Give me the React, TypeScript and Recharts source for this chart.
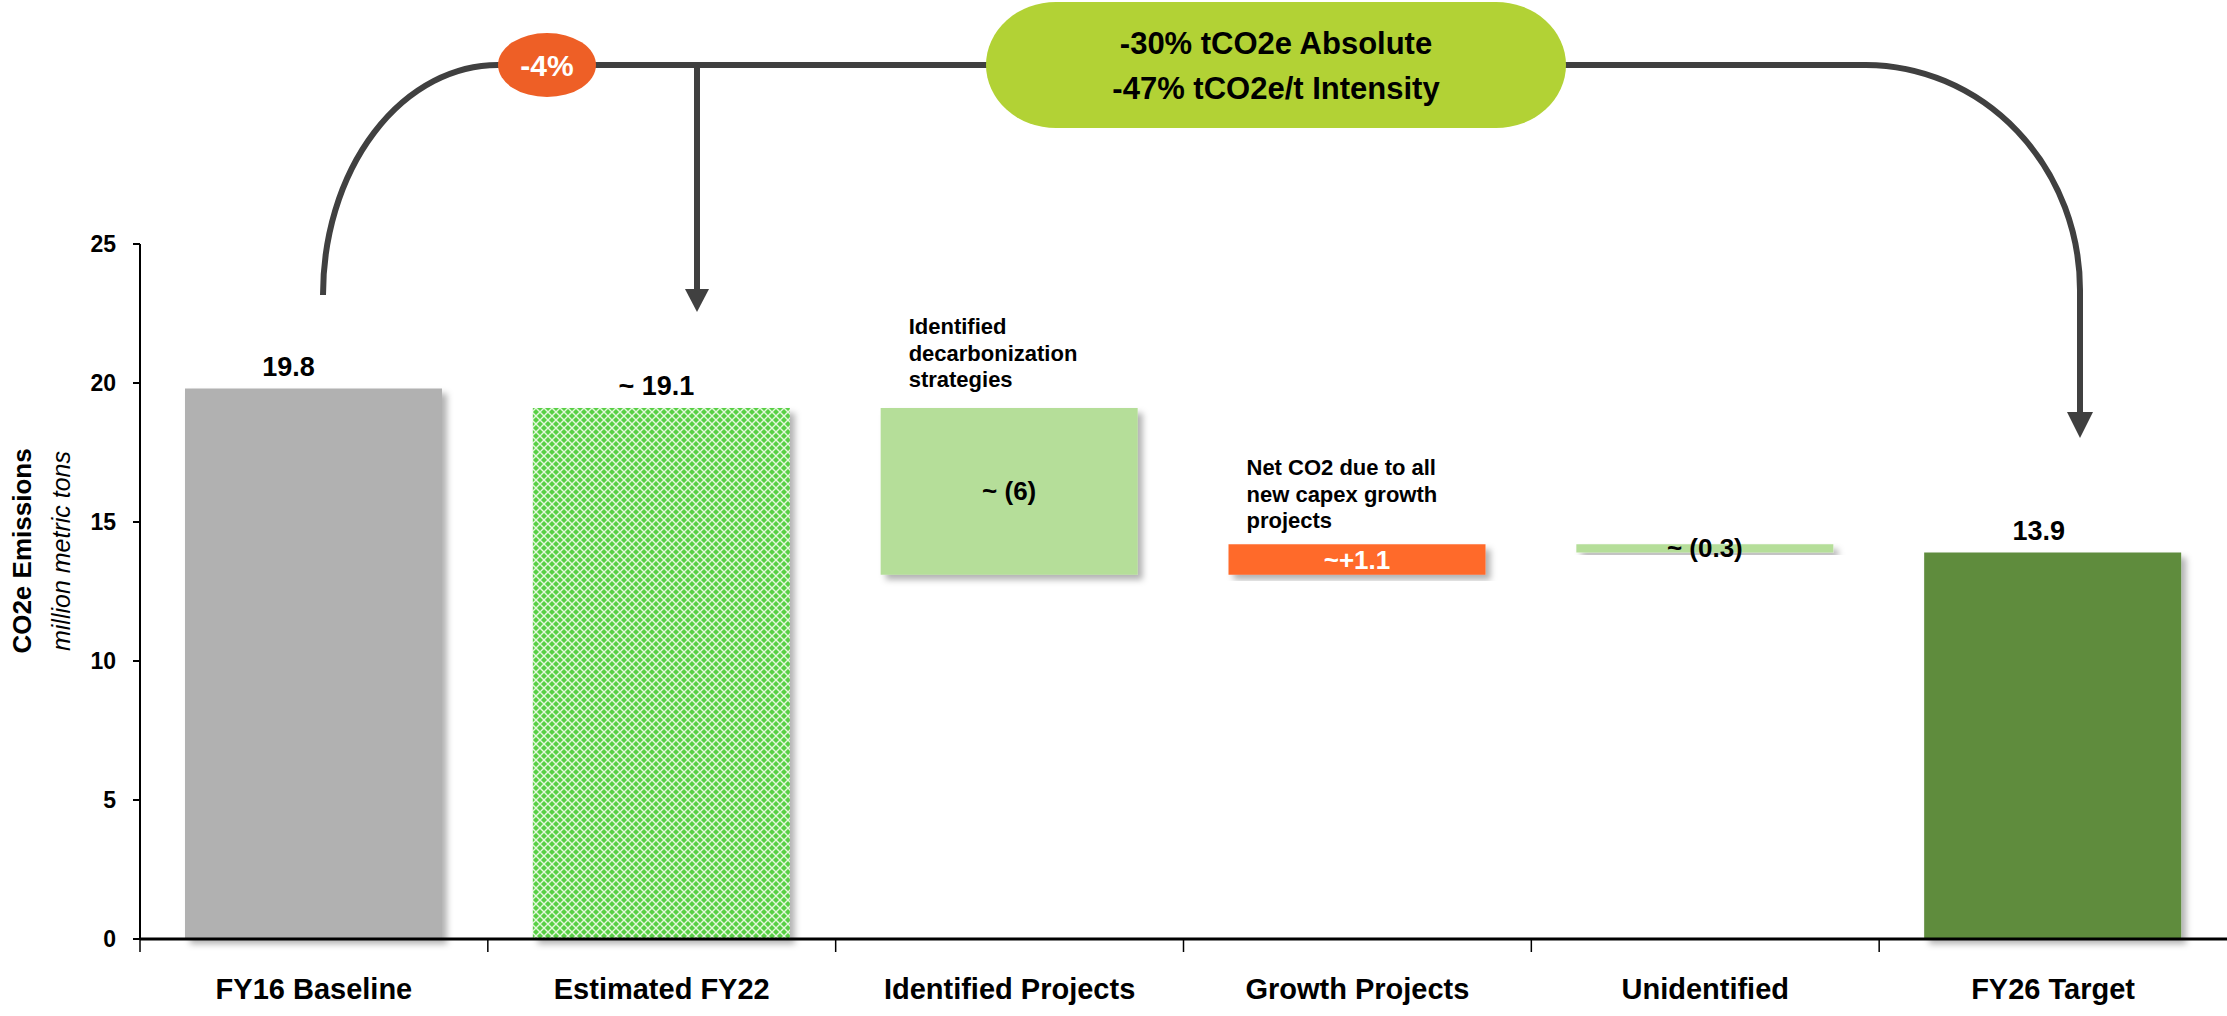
import { Bar, BarChart, Cell, LabelList, XAxis, YAxis } from "recharts";

const CATEGORIES = [
  "FY16 Baseline",
  "Estimated FY22",
  "Identified Projects",
  "Growth Projects",
  "Unidentified",
  "FY26 Target",
];
// waterfall: invisible base + visible change
const BASE = [0, 0, 13.1, 13.1, 13.9, 0];
const CHANGE = [19.8, 19.1, 6, 1.1, 0.3, 13.9];
const VALUE_LABELS = ["19.8", "~ 19.1", "~ (6)", "~+1.1", "~ (0.3)", "13.9"];
const NOTES = [
  [],
  [],
  ["Identified", "decarbonization", "strategies"],
  ["Net CO2 due to all", "new capex growth", "projects"],
  [],
  [],
];
const Y_TICKS = [0, 5, 10, 15, 20, 25];

const W = 2227;
const H = 1016;
const TOP = 244;
const Y_AXIS_W = 140;
const X_AXIS_H = 77;
const BAND = (W - Y_AXIS_W) / CATEGORIES.length;
const FONT = "'Liberation Sans', Arial, sans-serif";

const FILLS = ["#b1b1b1", "url(#hatch)", "#b5de99", "#ff6a2c", "#b5de99", "#5e8c3c"];
const LABEL_DX = [-25, -5, 0, 0, 0, -14];
const LABEL_INSIDE = [false, false, true, true, true, false];
const NOTE_DX = [0, 0, 28, 18, 0, 0];
const NOTE_BOTTOM = [0, 0, 21, 16, 0, 0];

const data = CATEGORIES.map((name, i) => ({ name, base: BASE[i], change: CHANGE[i] }));

function CategoryTick(props: any) {
  const { x, y, payload } = props;
  const left = x - BAND / 2;
  return (
    <g>
      <line x1={left} x2={left} y1={y} y2={y + 13} stroke="#000" strokeWidth={1.5} />
      <text x={x} y={y + 60} textAnchor="middle" fontFamily={FONT} fontWeight={700} fontSize={29} fill="#000">
        {payload.value}
      </text>
    </g>
  );
}

function BarLabel(props: any) {
  const { x, y, width, height, index } = props;
  const i = index as number;
  const cx = x + width / 2 + LABEL_DX[i];
  const notes = NOTES[i];
  return (
    <g>
      {LABEL_INSIDE[i] ? (
        <text
          x={cx}
          y={y + height / 2 + 9}
          textAnchor="middle"
          fontFamily={FONT}
          fontWeight={700}
          fontSize={26}
          fill={i === 3 ? "#fff" : "#000"}
        >
          {VALUE_LABELS[i]}
        </text>
      ) : (
        <text x={cx} y={y - 13} textAnchor="middle" fontFamily={FONT} fontWeight={700} fontSize={27} fill="#000">
          {VALUE_LABELS[i]}
        </text>
      )}
      {notes.map((line, k) => (
        <text
          key={k}
          x={x + NOTE_DX[i]}
          y={y - NOTE_BOTTOM[i] - (notes.length - 1 - k) * 26.5}
          fontFamily={FONT}
          fontWeight={700}
          fontSize={22}
          fill="#000"
        >
          {line}
        </text>
      ))}
    </g>
  );
}

function Annotations() {
  const dark = "#404040";
  return (
    <svg width={W} height={H} style={{ position: "absolute", left: 0, top: 0, pointerEvents: "none" }}>
      {/* axis title */}
      <text
        transform="translate(31 551) rotate(-90)"
        textAnchor="middle"
        fontFamily={FONT}
        fontWeight={700}
        fontSize={26}
        fill="#000"
      >
        CO2e Emissions
      </text>
      <text
        transform="translate(70 551) rotate(-90)"
        textAnchor="middle"
        fontFamily={FONT}
        fontStyle="italic"
        fontSize={25}
        fill="#000"
      >
        million metric tons
      </text>

      {/* connector from baseline */}
      <path d="M 323 295 A 175 230 0 0 1 498 65 L 1866 65 A 215 225 0 0 1 2080 290 L 2080 415" fill="none" stroke={dark} strokeWidth={6} />
      <polygon points="2067,412 2093,412 2080,438" fill={dark} />
      <path d="M 697 65 L 697 292" fill="none" stroke={dark} strokeWidth={6} />
      <polygon points="685,289 709,289 697,312" fill={dark} />

      <ellipse cx={547} cy={65} rx={49} ry={32} fill="#ee5f26" />
      <text x={547} y={76} textAnchor="middle" fontFamily={FONT} fontWeight={700} fontSize={30} fill="#fff">
        -4%
      </text>

      <rect x={986} y={2} width={580} height={126} rx={70} ry={63} fill="#b2d235" />
      <text x={1276} y={54} textAnchor="middle" fontFamily={FONT} fontWeight={700} fontSize={31} fill="#000">
        -30% tCO2e Absolute
      </text>
      <text x={1276} y={99} textAnchor="middle" fontFamily={FONT} fontWeight={700} fontSize={31} fill="#000">
        -47% tCO2e/t Intensity
      </text>
    </svg>
  );
}

export default function App() {
  return (
    <div style={{ position: "absolute", left: 0, top: 0, width: W, height: H, background: "#fff" }}>
      <BarChart width={W} height={H} data={data} margin={{ top: TOP, right: 0, bottom: 0, left: 0 }}>
        <defs>
          <pattern id="hatch" width="8" height="8" patternUnits="userSpaceOnUse">
            <rect width="8" height="8" fill="#58d044" />
            <path d="M0 0 L8 8 M8 0 L0 8" stroke="#e4f8dc" strokeWidth={1.4} />
          </pattern>
          <filter id="shadow" x="-10%" y="-10%" width="130%" height="130%">
            <feDropShadow dx={5} dy={5} stdDeviation={3} floodColor="#000" floodOpacity={0.3} />
          </filter>
        </defs>
        <XAxis
          dataKey="name"
          height={X_AXIS_H}
          tickLine={false}
          tickSize={0}
          tickMargin={0}
          interval={0}
          axisLine={{ stroke: "#000", strokeWidth: 3 }}
          tick={<CategoryTick />}
        />
        <YAxis
          width={Y_AXIS_W}
          domain={[0, 25]}
          ticks={Y_TICKS}
          tickSize={7}
          tickMargin={17}
          axisLine={{ stroke: "#000", strokeWidth: 2 }}
          tickLine={{ stroke: "#000", strokeWidth: 2 }}
          tick={{ fontFamily: FONT, fontWeight: 700, fontSize: 23, fill: "#000" }}
        />
        <Bar dataKey="base" stackId="w" fill="transparent" barSize={257} isAnimationActive={false} />
        <Bar dataKey="change" stackId="w" barSize={257} isAnimationActive={false}>
          {data.map((_, i) => (
            <Cell key={i} fill={FILLS[i]} filter="url(#shadow)" />
          ))}
          <LabelList dataKey="change" content={<BarLabel />} />
        </Bar>
      </BarChart>
      <Annotations />
    </div>
  );
}
